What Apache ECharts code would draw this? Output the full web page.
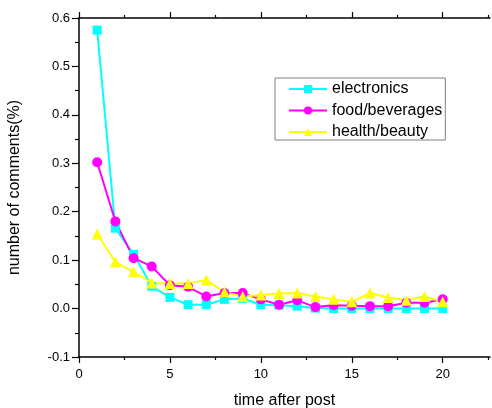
<!DOCTYPE html>
<html>
<head>
<meta charset="utf-8">
<script src="https://cdn.jsdelivr.net/npm/echarts@6/dist/echarts.min.js"></script>
<style>
  html, body { margin: 0; padding: 0; background: #fff; }
  #chart { width: 492px; height: 408px; }
</style>
</head>
<body>
<div id="chart"></div>
<script>
// Share of comments by hour after posting, per product category
const hours = [1, 2, 3, 4, 5, 6, 7, 8, 9, 10, 11, 12, 13, 14, 15, 16, 17, 18, 19, 20];
const electronics = [0.575, 0.166, 0.112, 0.046, 0.023, 0.008, 0.008, 0.019, 0.021, 0.008,
                     0.007, 0.005, 0.001, 0.000, 0.000, 0.000, 0.000, 0.000, 0.000, 0.000];
const foodBeverages = [0.302, 0.180, 0.104, 0.087, 0.048, 0.045, 0.025, 0.032, 0.032, 0.019,
                       0.008, 0.017, 0.003, 0.007, 0.006, 0.005, 0.005, 0.012, 0.012, 0.019];
const healthBeauty = [0.154, 0.096, 0.076, 0.053, 0.052, 0.052, 0.059, 0.034, 0.025, 0.028,
                      0.031, 0.032, 0.025, 0.019, 0.014, 0.032, 0.023, 0.017, 0.025, 0.014];
const xTickValues = [0, 5, 10, 15, 20];

const FONT = 'Liberation Sans, Arial, sans-serif';
const AXIS_COLOR = '#000';

function pairs(values) {
  return hours.map((h, i) => [h, values[i]]);
}

const chart = echarts.init(document.getElementById('chart'), null, { renderer: 'canvas' });

const baseX = {
  type: 'value',
  min: 0,
  max: 22.6,
  interval: 5,
  splitLine: { show: false },
  axisLine: { show: true, onZero: false, lineStyle: { color: AXIS_COLOR, width: 1.5 } },
  axisTick: { show: true, customValues: xTickValues, inside: false, length: 6, lineStyle: { color: AXIS_COLOR, width: 1.2 } },
  minorTick: { show: true, splitNumber: 2, length: 3, lineStyle: { color: AXIS_COLOR, width: 1.2 } },
  minorSplitLine: { show: false }
};

const option = {
  animation: false,
  backgroundColor: '#fff',
  grid: { left: 79, right: 2, top: 18, bottom: 51, containLabel: false, outerBoundsMode: 'none' },
  legend: {
    orient: 'vertical',
    left: 275,
    top: 78,
    padding: [3, 3, 0, 13],
    itemGap: 5.5,
    itemWidth: 38,
    itemHeight: 10,
    borderColor: '#808080',
    borderWidth: 1,
    backgroundColor: '#fff',
    textStyle: { fontFamily: FONT, fontSize: 16, color: '#000' },
    data: ['electronics', 'food/beverages', 'health/beauty']
  },
  xAxis: [
    Object.assign({}, baseX, {
      position: 'bottom',
      name: 'time after post',
      nameLocation: 'middle',
      nameGap: 36,
      nameTextStyle: { fontFamily: FONT, fontSize: 16, color: '#000' },
      axisLabel: {
        show: true,
        customValues: xTickValues,
        margin: 11,
        fontFamily: FONT,
        fontSize: 13,
        color: '#000'
      }
    }),
    Object.assign({}, baseX, {
      position: 'top',
      axisLabel: { show: false }
    })
  ],
  yAxis: {
    type: 'value',
    min: -0.1,
    max: 0.6,
    interval: 0.1,
    name: 'number of comments(%)',
    nameLocation: 'middle',
    nameGap: 56,
    nameTextStyle: { fontFamily: FONT, fontSize: 16, color: '#000' },
    splitLine: { show: false },
    axisLine: { show: true, onZero: false, lineStyle: { color: AXIS_COLOR, width: 1.5 } },
    axisTick: { show: true, length: 7, lineStyle: { color: AXIS_COLOR, width: 1.2 } },
    minorTick: { show: true, splitNumber: 2, length: 4, lineStyle: { color: AXIS_COLOR, width: 1.2 } },
    axisLabel: {
      margin: 9,
      fontFamily: FONT,
      fontSize: 13,
      color: '#000',
      formatter: v => v.toFixed(1)
    }
  },
  series: [
    {
      name: 'electronics',
      type: 'line',
      data: pairs(electronics),
      symbol: 'rect',
      symbolSize: 9,
      showAllSymbol: true,
      lineStyle: { color: '#00FFFF', width: 2 },
      itemStyle: { color: '#00FFFF' }
    },
    {
      name: 'food/beverages',
      type: 'line',
      data: pairs(foodBeverages),
      symbol: 'circle',
      symbolSize: 10,
      showAllSymbol: true,
      lineStyle: { color: '#FF00FF', width: 2 },
      itemStyle: { color: '#FF00FF' }
    },
    {
      name: 'health/beauty',
      type: 'line',
      data: pairs(healthBeauty),
      symbol: 'triangle',
      symbolSize: 11,
      showAllSymbol: true,
      lineStyle: { color: '#FFFF00', width: 2 },
      itemStyle: { color: '#FFFF00' }
    }
  ]
};

chart.setOption(option);
</script>
</body>
</html>
